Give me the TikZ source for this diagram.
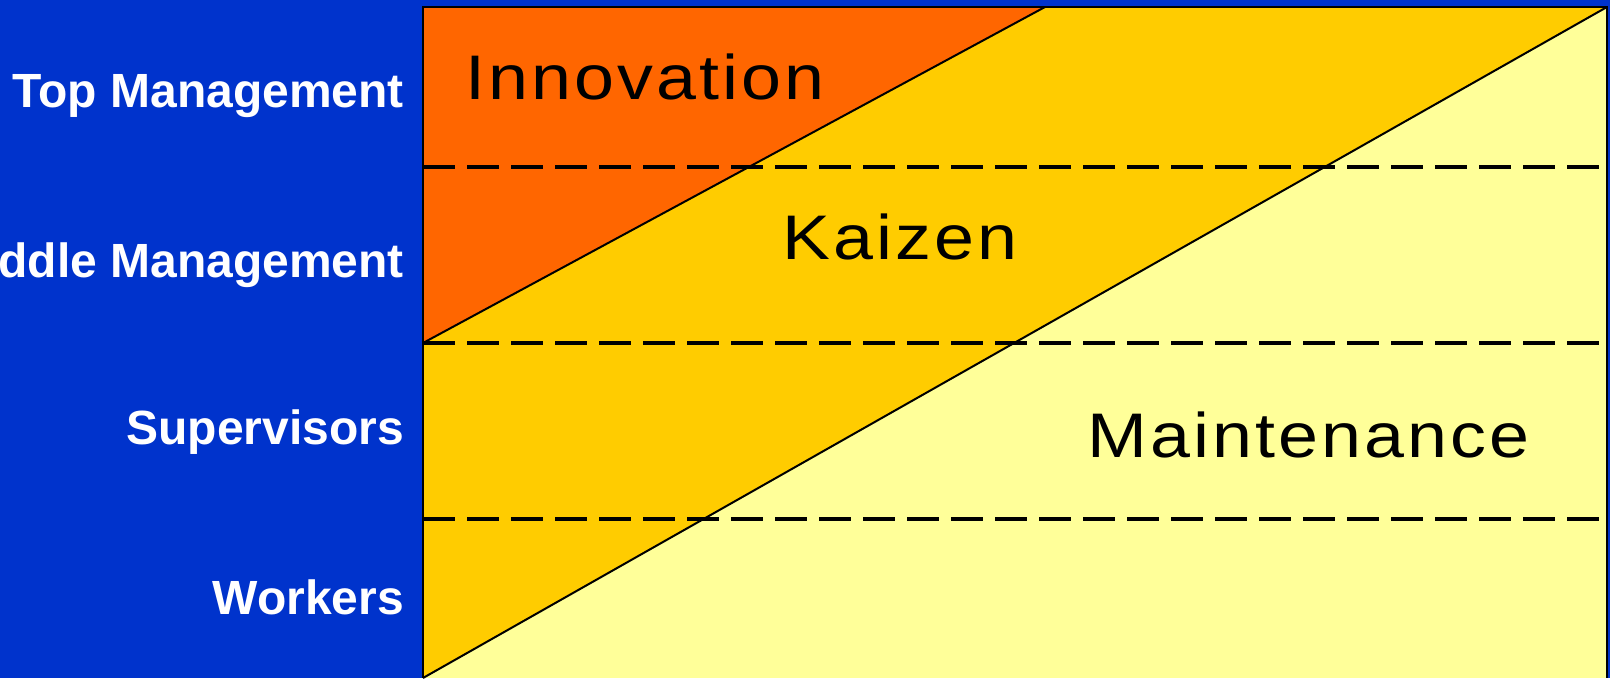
\documentclass[tikz,border=0pt]{standalone}
\usepackage{fontspec}
\setmainfont{Liberation Sans}
\newfontfamily\zonefont[FakeStretch=1.14, LetterSpace=5]{Liberation Sans}
\definecolor{bgblue}{RGB}{0,51,204}
\definecolor{innov}{RGB}{255,102,0}
\definecolor{kaizen}{RGB}{255,204,0}
\definecolor{maint}{RGB}{255,255,153}
\tikzset{
  level/.style={anchor=base east, inner sep=0pt, text=white,
    font=\fontsize{48}{52}\selectfont\bfseries},
  zone/.style={anchor=base west, inner sep=0pt, text=black,
    font=\fontsize{63}{66}\selectfont\zonefont},
  split/.style={draw=black, line width=2pt},
  tier/.style={draw=black, line width=4pt, dash pattern=on 32pt off 12pt},
}
\begin{document}
\begin{tikzpicture}[x=1pt, y=-1pt]
  \useasboundingbox (0,0) rectangle (1610,678);
  \clip (0,0) rectangle (1610,678);
  \fill[bgblue] (0,0) rectangle (1610,678);

  % corners of the chart area
  \coordinate (tl) at (423,7);
  \coordinate (tr) at (1607,7);
  \coordinate (bl) at (423,678);
  \coordinate (br) at (1607,678);
  \coordinate (itop) at (1045,7);
  \coordinate (ibot) at (423,343);

  % bands
  \fill[maint] (tl) rectangle (br);
  \fill[kaizen] (tl) -- (tr) -- (bl) -- cycle;
  \fill[innov] (tl) -- (itop) -- (ibot) -- cycle;

  % diagonal boundaries
  \draw[split] (itop) -- (ibot);
  \draw[split] (tr) -- (bl);

  % level separators
  \coordinate (d1a) at (423,167); \coordinate (d1b) at (1600,167);
  \coordinate (d2a) at (423,343); \coordinate (d2b) at (1600,343);
  \coordinate (d3a) at (423,519); \coordinate (d3b) at (1600,519);
  \draw[tier] (d1a) -- (d1b);
  \draw[tier] (d2a) -- (d2b);
  \draw[tier] (d3a) -- (d3b);

  % frame
  \draw[black, line width=2.5pt] (bl) -- (tl) -- (tr) -- (br);

  % zone labels
  \node[zone] (innovation) at (465,99) {Innovation};
  \node[zone] (kaizenlbl) at (782,259) {Kaizen};
  \node[zone] (maintenance) at (1087,457) {Maintenance};

  % organisational levels
  \node[level] (top) at (404,107) {Top Management};
  \node[level] (middle) at (404,277) {Middle Management};
  \node[level] (sup) at (404,444) {Supervisors};
  \node[level] (workers) at (404,614) {Workers};
\end{tikzpicture}
\end{document}
